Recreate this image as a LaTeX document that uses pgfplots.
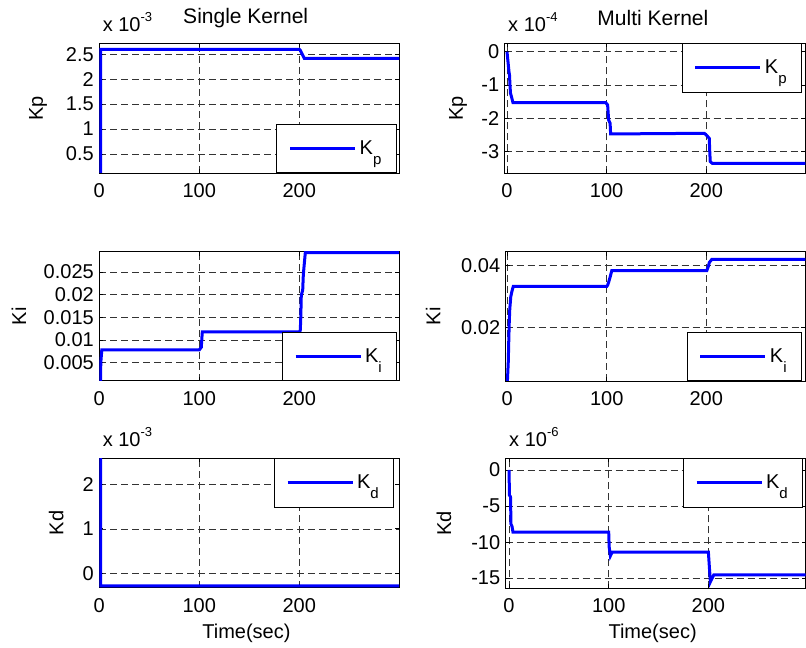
\documentclass[border=0pt]{standalone}
\usepackage{fontspec}
\setmainfont{Liberation Sans}
\usepackage{pgfplots}
\pgfplotsset{compat=1.18}
\newcommand{\fs}{\fontsize{20}{24}\selectfont}
\newcommand{\sub}[1]{\raisebox{-10pt}{\fontsize{15}{15}\selectfont #1}}
\newcommand{\expo}[1]{x 10\raisebox{10pt}{\fontsize{13}{13}\selectfont #1}}
\pgfplotsset{
  matl/.style={
    scale only axis,
    clip mode=individual,
    no marks,
    scaled y ticks=false, scaled x ticks=false,
    axis line style={black, line width=0.9pt},
    grid=major,
    major grid style={black!80, line width=0.7pt, dash pattern=on 7pt off 4pt},
    tick align=inside, major tick length=4pt,
    tick style={black, line width=0.8pt},
    xtick={0,100,200}, xticklabels={0,100,200},
    tick label style={font=\fs},
    xticklabel style={yshift=-7pt},
    yticklabel style={xshift=-2pt},
    label style={font=\fs},
    ylabel style={rotate=0, anchor=center},
    title style={font=\fontsize{21}{25}\selectfont, anchor=center},
    legend style={font=\fs, draw=black, line width=0.8pt, fill=white,
      inner xsep=12pt, inner ysep=13.5pt, nodes={inner sep=3pt}},
    legend image code/.code={\draw[#1, line width=3pt] (0pt,0pt) -- (65pt,0pt);},
    every axis plot/.append style={blue, line width=3pt},
  }
}
\begin{document}
\begin{tikzpicture}
\useasboundingbox (0pt,0pt) rectangle (806pt,648pt);

% ---------- Top left: Single kernel Kp (x 1e-3)
\begin{axis}[matl, at={(99.3pt,475pt)}, anchor=south west,
  width=300pt, height=129.7pt,
  xmin=0, xmax=300, ymin=0.12, ymax=2.72,
  ytick={0.5,1,1.5,2,2.5}, yticklabels={0.5,1,1.5,2,2.5},
  ylabel={Kp}, ylabel style={at={(axis description cs:-0.204,0.5)}},
  title={Single Kernel}, title style={at={(axis description cs:0.488,1.148)}},
  legend style={at={(axis description cs:0.9916,0)}, anchor=south east}]
\addplot coordinates {(1.2,0.05) (1.4,2.6) (200,2.6) (201,2.58) (205,2.42) (300,2.42)};
\legend{K\sub{p}}
\node[anchor=base west, font=\fs] at (rel axis cs:0,1) [yshift=11.6pt] {\expo{-3}};
\end{axis}

% ---------- Top right: Multi kernel Kp (x 1e-4)
\begin{axis}[matl, at={(504.7pt,474.7pt)}, anchor=south west,
  width=300.6pt, height=130pt,
  xmin=-2.3, xmax=299.4, ymin=-3.65, ymax=0.25,
  ytick={-3,-2,-1,0}, yticklabels={-3,-2,-1,0},
  ylabel={Kp}, ylabel style={at={(axis description cs:-0.155,0.5)}},
  title={Multi Kernel}, title style={at={(axis description cs:0.493,1.148)}},
  legend style={at={(axis description cs:0.989,1)}, anchor=north east}]
\addplot coordinates {(0,0) (1,-0.3) (2,-0.6) (2.5,-0.7) (3,-1.0) (3.5,-1.25) (4.5,-1.35) (6,-1.53)
  (99,-1.53) (101,-1.6) (102,-2.05) (103.5,-2.15) (104,-2.47) (198,-2.45) (200,-2.5) (203,-2.6)
  (203.5,-3.0) (204,-3.3) (206,-3.35) (300,-3.35)};
\legend{K\sub{p}}
\node[anchor=base west, font=\fs] at (rel axis cs:0,1) [yshift=11.6pt] {\expo{-4}};
\end{axis}

% ---------- Middle left: Single kernel Ki
\begin{axis}[matl, at={(99.3pt,267.3pt)}, anchor=south west,
  width=299.7pt, height=129pt,
  xmin=0, xmax=299.7, ymin=0.001, ymax=0.0295,
  ytick={0.005,0.01,0.015,0.02,0.025}, yticklabels={0.005,0.01,0.015,0.02,0.025},
  ylabel={Ki}, ylabel style={at={(axis description cs:-0.268,0.5)}},
  legend style={at={(axis description cs:0.994,0)}, anchor=south east}]
\addplot coordinates {(1.2,0.0005) (1.5,0.005) (2.5,0.0078) (100,0.0078) (102,0.0084) (103,0.0118)
  (200.5,0.0118) (201,0.0122) (201.5,0.0151) (202,0.0199) (203.4,0.021) (204,0.0243) (204.4,0.0254)
  (206,0.0293) (300,0.0293)};
\legend{K\sub{i}}
\end{axis}

% ---------- Middle right: Multi kernel Ki
\begin{axis}[matl, at={(505.7pt,267pt)}, anchor=south west,
  width=299.6pt, height=129.3pt,
  xmin=-1.6, xmax=299.5, ymin=0.0028, ymax=0.0445,
  ytick={0.02,0.04}, yticklabels={0.02,0.04},
  ylabel={Ki}, ylabel style={at={(axis description cs:-0.242,0.5)}},
  legend style={at={(axis description cs:0.989,0)}, anchor=south east}]
\addplot coordinates {(0,0.002) (1,0.009) (1.5,0.016) (2,0.022) (2.5,0.026) (3.5,0.03) (4.5,0.0315)
  (6,0.0333) (100,0.0333) (101,0.0338) (102,0.0348) (103.5,0.0365) (105,0.0384) (200.5,0.0384)
  (202,0.0397) (203,0.041) (205.5,0.042) (300,0.042)};
\legend{K\sub{i}}
\end{axis}

% ---------- Bottom left: Single kernel Kd (x 1e-3)
\begin{axis}[matl, at={(99.3pt,60.3pt)}, anchor=south west,
  width=299.7pt, height=129.4pt,
  xmin=0, xmax=299.7, ymin=-0.32, ymax=2.584,
  ytick={0,1,2}, yticklabels={0,1,2},
  ylabel={Kd}, ylabel style={at={(axis description cs:-0.144,0.5)}},
  xlabel={Time(sec)}, xlabel style={at={(axis description cs:0.491,-0.35)}, anchor=center},
  legend style={at={(axis description cs:0.984,1)}, anchor=north east}]
\addplot coordinates {(1.2,2.7) (1.4,-0.28) (300,-0.28)};
\legend{K\sub{d}}
\node[anchor=base west, font=\fs] at (rel axis cs:0,1) [yshift=11.6pt] {\expo{-3}};
\end{axis}

% ---------- Bottom right: Multi kernel Kd (x 1e-6)
\begin{axis}[matl, at={(505.7pt,59.7pt)}, anchor=south west,
  width=299.8pt, height=130pt,
  xmin=-3.3, xmax=297.4, ymin=-16.4, ymax=1.62,
  ytick={-15,-10,-5,0}, yticklabels={-15,-10,-5,0},
  ylabel={Kd}, ylabel style={at={(axis description cs:-0.206,0.5)}},
  xlabel={Time(sec)}, xlabel style={at={(axis description cs:0.49,-0.35)}, anchor=center},
  legend style={at={(axis description cs:0.992,1)}, anchor=north east}]
\addplot coordinates {(0,0) (0.5,-3.5) (1.5,-3.7) (2,-7.5) (3,-7.8) (4,-8.6) (100,-8.6)
  (100.5,-10.7) (101.7,-11.9) (103.4,-11.4) (200,-11.4) (201,-13.5) (202,-15.5) (203,-15.2)
  (205.4,-14.55) (300,-14.55)};
\legend{K\sub{d}}
\node[anchor=base west, font=\fs] at (rel axis cs:0,1) [yshift=11.6pt] {\expo{-6}};
\end{axis}
\end{tikzpicture}
\end{document}
